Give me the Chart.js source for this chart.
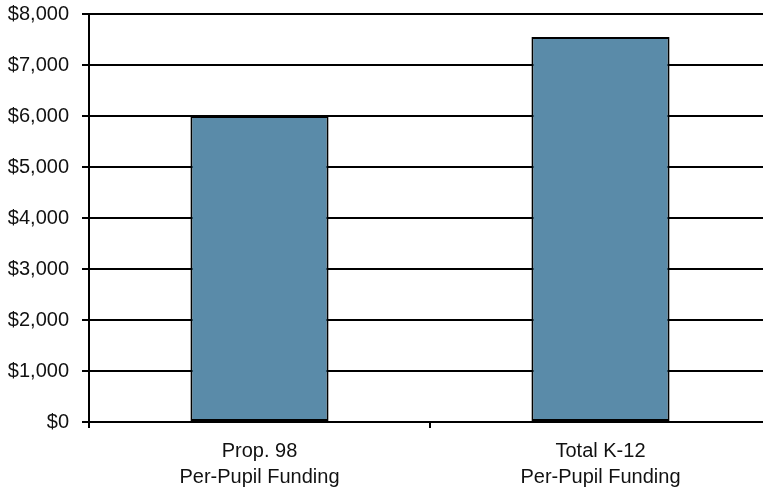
<!DOCTYPE html>
<html>
<head>
<meta charset="utf-8">
<script src="https://cdn.jsdelivr.net/npm/chart.js@4/dist/chart.umd.min.js"></script>
<style>
  html, body { margin: 0; padding: 0; background: #fff; overflow: hidden; }
  #wrap { width: 771px; height: 494px; }
</style>
</head>
<body>
<div id="wrap"><canvas id="c" width="771" height="494"></canvas></div>
<script>
// Per-pupil funding comparison
const categories = [["Prop. 98", "Per-Pupil Funding"], ["Total K-12", "Per-Pupil Funding"]];
const fundingValues = [6000, 7550];
const yTicks = [0, 1000, 2000, 3000, 4000, 5000, 6000, 7000, 8000];

const fmt = v => "$" + v.toLocaleString("en-US");
const font = { family: "'Liberation Sans', Arial, sans-serif", size: 20, lineHeight: 1.28 };

new Chart(document.getElementById("c"), {
  type: "bar",
  data: {
    labels: categories,
    datasets: [{
      data: fundingValues,
      backgroundColor: "#5a8ba9",
      borderColor: "#000",
      borderWidth: 2,
      borderSkipped: false,
      barPercentage: 0.405,
      categoryPercentage: 1
    }]
  },
  options: {
    responsive: false,
    animation: false,
    layout: { padding: { top: 14, left: 0, right: 0, bottom: 0 } },
    plugins: { legend: { display: false }, tooltip: { enabled: false } },
    scales: {
      x: {
        grid: { display: true, drawOnChartArea: false, drawTicks: true, tickLength: 6, color: "#000", lineWidth: 2, offset: true },
        border: { display: true, color: "#000", width: 2 },
        ticks: { color: "#111", font: font, padding: 11, maxRotation: 0, autoSkip: false },
        afterFit: s => { s.height = 72; s.paddingLeft = 0; s.paddingRight = 0; }
      },
      y: {
        min: 0, max: 8000,
        afterBuildTicks: s => { s.ticks = yTicks.map(v => ({ value: v })); },
        grid: { color: "#000", lineWidth: 2, tickLength: 7, drawTicks: true },
        border: { display: true, color: "#000", width: 2 },
        ticks: { color: "#111", font: font, padding: 13, callback: v => fmt(v) },
        afterFit: s => { s.width = 89; s.paddingTop = 0; s.paddingBottom = 0; }
      }
    }
  }
});
</script>
</body>
</html>
